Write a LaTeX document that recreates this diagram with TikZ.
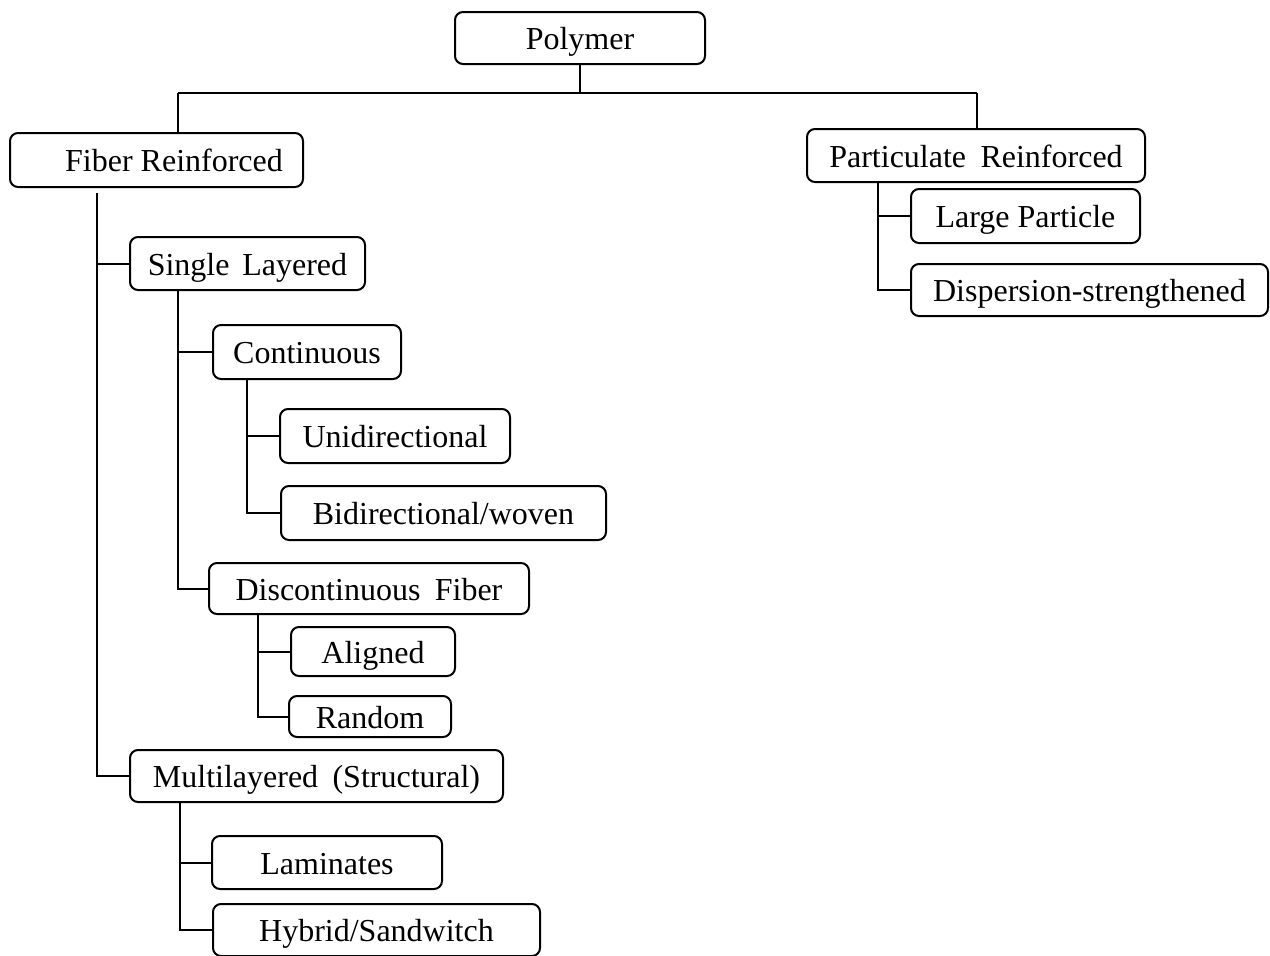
\documentclass[tikz,border=0pt]{standalone}
\usepackage{fontspec}
\setmainfont{Liberation Serif}
\begin{document}
\begin{tikzpicture}[x=1pt,y=-1pt,
  box/.style={draw,line width=2pt,rounded corners=8pt,inner sep=0pt,
    text height=23pt,text depth=0pt,font=\fontsize{32}{37}\selectfont,align=center},
  link/.style={line width=2pt}]
\useasboundingbox (0,0) rectangle (1270,956);
\fill[white] (0,0) rectangle (1270,956);
\node[box,minimum width=250pt,minimum height=52pt] (poly) at (580,38) {Polymer};
\node[box,minimum width=293pt,minimum height=54pt] (fiber) at (156.5,160) {\hspace*{35pt}Fiber Reinforced};
\node[box,minimum width=338pt,minimum height=53pt] (part) at (976,155.5) {Particulate\hspace{0.2em} Reinforced};
\node[box,minimum width=229pt,minimum height=54pt] (large) at (1025.5,216) {Large Particle};
\node[box,minimum width=357pt,minimum height=52pt] (disp) at (1089.5,290) {Dispersion-strengthened};
\node[box,minimum width=235pt,minimum height=53pt] (single) at (247.5,263.5) {Single\hspace{0.15em} Layered};
\node[box,minimum width=188pt,minimum height=54pt] (cont) at (307,352) {Continuous};
\node[box,minimum width=230pt,minimum height=54pt] (uni) at (395,436) {Unidirectional};
\node[box,minimum width=325pt,minimum height=54pt] (bi) at (443.5,513) {Bidirectional/woven};
\node[box,minimum width=320pt,minimum height=51pt] (disc) at (369,588.5) {Discontinuous\hspace{0.2em} Fiber};
\node[box,minimum width=164pt,minimum height=49pt] (align) at (373,651.5) {Aligned};
\node[box,minimum width=162pt,minimum height=41pt] (rand) at (370,716.5) {Random};
\node[box,minimum width=373pt,minimum height=52pt] (multi) at (316.5,776) {Multilayered\hspace{0.2em} (Structural)};
\node[box,minimum width=230pt,minimum height=53pt] (lam) at (327,862.5) {Laminates};
\node[box,minimum width=327pt,minimum height=52pt] (hyb) at (376.5,930) {Hybrid/Sandwitch};
\coordinate (pj) at (580,93);
\coordinate (fl) at (178,93);
\coordinate (pr) at (977,93);
\draw[link] (poly.south) -- (pj);
\draw[link] (fl) -- (pr);
\draw[link] (fl) -- (fl |- fiber.north);
\draw[link] (pr) -- (pr |- part.north);
\draw[link] ([yshift=-5pt]fiber.south -| 97,0) |- (single.west);
\draw[link] (97,263.5) |- (multi.west);
\draw[link] (single.south -| 178,0) |- (cont.west);
\draw[link] (178,352) |- (disc.west);
\draw[link] (cont.south -| 247,0) |- (uni.west);
\draw[link] (247,436) |- (bi.west);
\draw[link] (disc.south -| 258,0) |- (align.west);
\draw[link] (258,651.5) |- (rand.west);
\draw[link] (multi.south -| 180,0) |- (lam.west);
\draw[link] (180,862.5) |- (hyb.west);
\draw[link] (part.south -| 878,0) |- (large.west);
\draw[link] (878,216) |- (disp.west);
\end{tikzpicture}
\end{document}
